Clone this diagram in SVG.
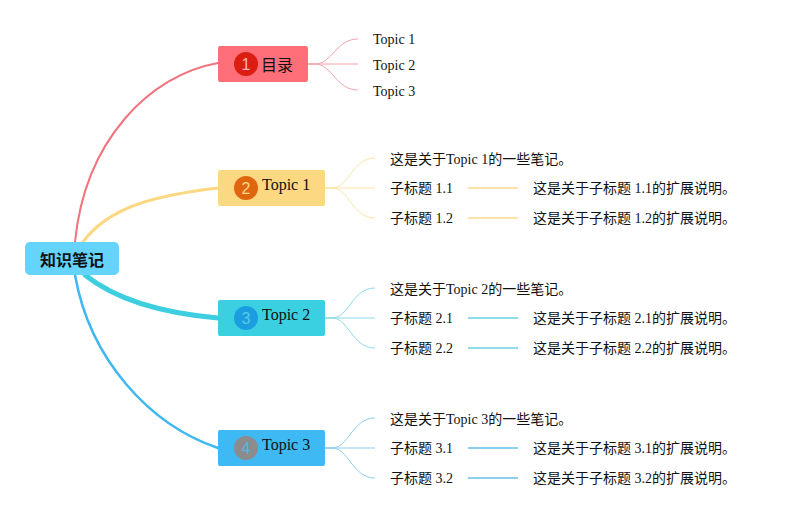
<svg xmlns="http://www.w3.org/2000/svg" width="796" height="518" viewBox="0 0 796 518">
<style>
.t{font-family:"Liberation Serif","Noto Sans CJK SC",serif;fill:#111}
.s{font-size:14px}
.m{font-size:16px}
.n{font-family:"Liberation Sans","Noto Sans",sans-serif;font-size:16px;text-anchor:middle}
.c{fill:none;stroke-linecap:round}
</style>
<rect width="796" height="518" fill="#fff"/>
<g id="connectors">
  <path class="c" d="M75,242 C85,140 150,75 218,63" stroke="#f0737d" stroke-width="2"/>
  <path class="c" d="M83,242 C110,205 160,195 218,188" stroke="#fcd882" stroke-width="3"/>
  <path class="c" d="M85,275 C110,295 150,312 218,318" stroke="#3dcfe0" stroke-width="5"/>
  <path class="c" d="M75,275 C90,360 150,425 218,448" stroke="#3fb8f0" stroke-width="2.5"/>
  <g stroke="#f3a3ab" stroke-width="1" fill="none">
    <path d="M308,64 L315,64 C332,64 336,39 358,39"/>
    <path d="M308,64 L358,64"/>
    <path d="M308,64 L315,64 C332,64 336,90 358,90"/>
  </g>
  <g stroke="#fde3a8" stroke-width="1" fill="none">
    <path d="M325,188 L332,188 C349,188 352,158 375,158"/>
    <path d="M325,188 L375,188"/>
    <path d="M325,188 L332,188 C349,188 352,218 375,218"/>
    <path d="M468,188 L518,188" stroke-width="2"/>
    <path d="M468,218 L518,218" stroke-width="2"/>
  </g>
  <g stroke="#8fdbe8" stroke-width="1" fill="none">
    <path d="M325,318 L332,318 C349,318 352,288 375,288"/>
    <path d="M325,318 L375,318"/>
    <path d="M325,318 L332,318 C349,318 352,348 375,348"/>
    <path d="M468,318 L518,318" stroke-width="2"/>
    <path d="M468,348 L518,348" stroke-width="2"/>
  </g>
  <g stroke="#8ecfee" stroke-width="1" fill="none">
    <path d="M325,448 L332,448 C349,448 352,418 375,418"/>
    <path d="M325,448 L375,448"/>
    <path d="M325,448 L332,448 C349,448 352,478 375,478"/>
    <path d="M468,448 L518,448" stroke-width="2"/>
    <path d="M468,478 L518,478" stroke-width="2"/>
  </g>
</g>
<g id="root">
  <rect x="25" y="242" width="94" height="33" rx="5" fill="#64d4fc"/>
  <text x="72" y="265.5" text-anchor="middle" font-family="'Noto Sans CJK SC',sans-serif" font-size="16" font-weight="bold" fill="#111">知识笔记</text>
</g>
<g id="node-mulu">
  <rect x="218" y="46" width="90" height="36" rx="2" fill="#ff6f7a"/>
  <circle cx="246" cy="64" r="12" fill="#dc1e12"/>
  <text class="n" x="246" y="70" fill="#ffb3b8">1</text>
  <text class="t m" x="261" y="71">目录</text>
</g>
<g id="node-topic1">
  <rect x="218" y="170" width="107" height="36" rx="2" fill="#fdd883"/>
  <circle cx="246" cy="188" r="12" fill="#e0650f"/>
  <text class="n" x="246" y="194" fill="#fdd98a">2</text>
  <text class="t m" x="262" y="190">Topic 1</text>
</g>
<g id="node-topic2">
  <rect x="218" y="300" width="107" height="36" rx="2" fill="#3bd0e1"/>
  <circle cx="246" cy="318" r="12" fill="#1a9ee0"/>
  <text class="n" x="246" y="324" fill="#55cbe8">3</text>
  <text class="t m" x="262" y="320">Topic 2</text>
</g>
<g id="node-topic3">
  <rect x="218" y="430" width="107" height="36" rx="2" fill="#3fb9f3"/>
  <circle cx="246" cy="448" r="12" fill="#8c8c8c"/>
  <text class="n" x="246" y="454" fill="#4fb8ee">4</text>
  <text class="t m" x="262" y="450">Topic 3</text>
</g>
<g id="sub-mulu">
  <text class="t s" x="373" y="44">Topic 1</text>
  <text class="t s" x="373" y="70">Topic 2</text>
  <text class="t s" x="373" y="96">Topic 3</text>
</g>
<g id="sub-topic1">
  <text class="t s" x="390" y="164">这是关于Topic 1的一些笔记。</text>
  <text class="t s" x="390" y="193">子标题 1.1</text>
  <text class="t s" x="390" y="223">子标题 1.2</text>
  <text class="t s" x="533" y="193">这是关于子标题 1.1的扩展说明。</text>
  <text class="t s" x="533" y="223">这是关于子标题 1.2的扩展说明。</text>
</g>
<g id="sub-topic2">
  <text class="t s" x="390" y="294">这是关于Topic 2的一些笔记。</text>
  <text class="t s" x="390" y="323">子标题 2.1</text>
  <text class="t s" x="390" y="353">子标题 2.2</text>
  <text class="t s" x="533" y="323">这是关于子标题 2.1的扩展说明。</text>
  <text class="t s" x="533" y="353">这是关于子标题 2.2的扩展说明。</text>
</g>
<g id="sub-topic3">
  <text class="t s" x="390" y="424">这是关于Topic 3的一些笔记。</text>
  <text class="t s" x="390" y="453">子标题 3.1</text>
  <text class="t s" x="390" y="483">子标题 3.2</text>
  <text class="t s" x="533" y="453">这是关于子标题 3.1的扩展说明。</text>
  <text class="t s" x="533" y="483">这是关于子标题 3.2的扩展说明。</text>
</g>
</svg>
